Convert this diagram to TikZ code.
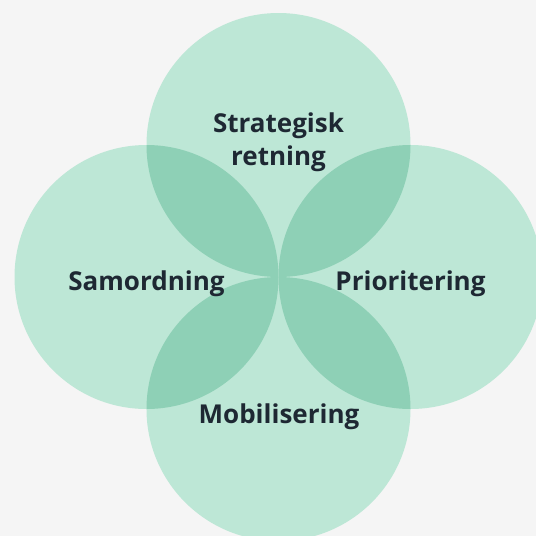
\documentclass[tikz,border=0pt]{standalone}
\usepackage{fontspec}
\setmainfont{Open Sans}
\definecolor{bg}{HTML}{F5F5F5}
\definecolor{light}{HTML}{BDE7D6}
\definecolor{dark}{HTML}{8ED0B6}
\definecolor{ink}{HTML}{1E2833}
\tikzset{
  lbl/.style={font=\fontsize{26}{33}\selectfont\bfseries, text=ink, align=center, inner sep=0pt},
}
\begin{document}
\begin{tikzpicture}[x=1pt,y=-1pt]
\useasboundingbox (0,0) rectangle (536,536);
\fill[bg] (0,0) rectangle (536,536);
\def\R{132}
\coordinate (T) at (278.5,145);
\coordinate (L) at (146.5,277);
\coordinate (Rr) at (410.5,277);
\coordinate (B) at (278.5,409);
\fill[light] (T) circle (\R);
\fill[light] (L) circle (\R);
\fill[light] (Rr) circle (\R);
\fill[light] (B) circle (\R);
\begin{scope}
  \clip (T) circle (\R);
  \fill[dark] (L) circle (\R);
  \fill[dark] (Rr) circle (\R);
\end{scope}
\begin{scope}
  \clip (B) circle (\R);
  \fill[dark] (L) circle (\R);
  \fill[dark] (Rr) circle (\R);
\end{scope}
\node[lbl, anchor=base] (t1) at (278.5,132) {Strategisk};
\node[lbl, anchor=base] (t2) at (278.5,165) {retning};
\node[lbl, anchor=base] (l) at (146.5,290.5) {Samordning};
\node[lbl, anchor=base] (r) at (410.5,290.5) {Prioritering};
\node[lbl, anchor=base] (b) at (279,423) {Mobilisering};
\end{tikzpicture}
\end{document}
